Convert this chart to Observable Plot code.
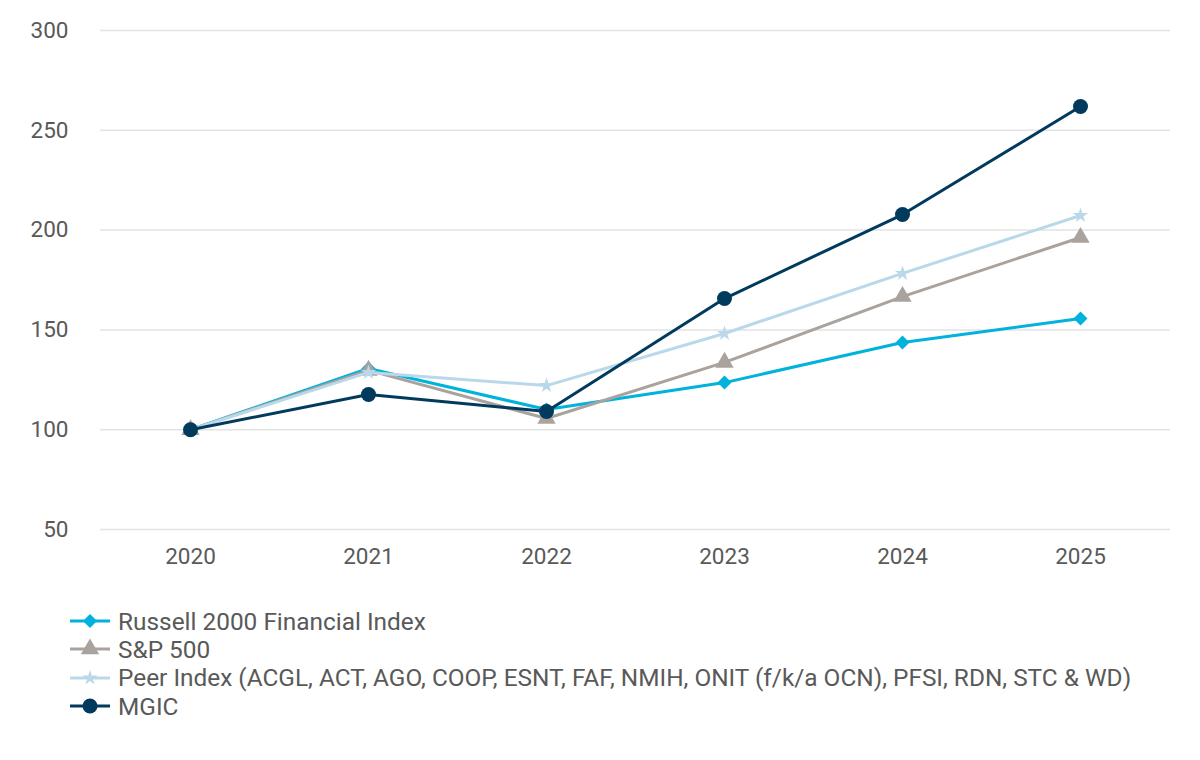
<!DOCTYPE html>
<html>
<head>
<meta charset="utf-8">
<script src="https://cdn.jsdelivr.net/npm/d3@7"></script>
<script src="https://cdn.jsdelivr.net/npm/@observablehq/plot@0.6"></script>
<style>
  body { margin: 0; background: #fff; font-family: Roboto, "Noto Sans", sans-serif; }
  #legend { margin-left: 70px; margin-top: 17px; color: #595959; font-size: 24.4px; }
  .row { display: flex; align-items: center; height: 28.3px; }
  .row svg { margin-right: 8px; flex: none; }
</style>
</head>
<body>
<div id="chart"></div>
<div id="legend"></div>
<script>
const years = ["2020", "2021", "2022", "2023", "2024", "2025"];
const seriesNames = [
  "Russell 2000 Financial Index",
  "S&P 500",
  "Peer Index (ACGL, ACT, AGO, COOP, ESNT, FAF, NMIH, ONIT (f/k/a OCN), PFSI, RDN, STC & WD)",
  "MGIC"
];
const russell = [100, 130.7, 110.1, 123.6, 143.7, 155.7];
const sp500   = [100, 129.7, 105.6, 133.7, 166.7, 196.3];
const peer    = [100, 128.7, 122.1, 148.2, 178.3, 207.3];
const mgic    = [100, 117.6, 109.1, 165.7, 207.8, 261.9];
const yTicks = [50, 100, 150, 200, 250, 300];

const colors = ["#00b2dc", "#aaa39d", "#b9d8ea", "#003a5d"];
const symbols = ["diamond2", "triangle", "star", "circle"];
const radii = [6.3, 6.8, 4.8, 7.5];
const values = [russell, sp500, peer, mgic];

const data = [];
seriesNames.forEach((s, i) => values[i].forEach((v, j) => data.push({series: s, year: years[j], value: v})));

const marks = [
  Plot.gridY(yTicks, {stroke: "#e3e3e3", strokeOpacity: 1, strokeWidth: 1.5}),
  Plot.axisY(yTicks, {tickSize: 0, tickPadding: 32, label: null, fontSize: 22.5, fill: "#595959"}),
  Plot.axisX({tickSize: 0, tickPadding: 19, label: null, fontSize: 22.5, fill: "#595959"})
];
seriesNames.forEach((s, i) => {
  const d = data.filter(e => e.series === s);
  marks.push(Plot.line(d, {x: "year", y: "value", stroke: colors[i], strokeWidth: 3}));
  marks.push(Plot.dot(d, {x: "year", y: "value", fill: colors[i], symbol: () => symbols[i], r: radii[i]}));
});

const chart = Plot.plot({
  width: 1200,
  height: 590,
  marginLeft: 100,
  marginRight: 30,
  marginTop: 30,
  marginBottom: 61,
  style: {fontFamily: "Roboto, sans-serif", fontSize: "22.5px", color: "#595959", background: "#fff"},
  x: {type: "point", domain: years, padding: 0.5},
  y: {domain: [50, 300]},
  symbol: {type: "identity"},
  marks
});
document.getElementById("chart").appendChild(chart);

const legend = document.getElementById("legend");
const symMap = {diamond2: d3.symbolDiamond2, triangle: d3.symbolTriangle, star: d3.symbolStar, circle: d3.symbolCircle};
seriesNames.forEach((s, i) => {
  const row = document.createElement("div");
  row.className = "row";
  const svg = d3.create("svg").attr("width", 40).attr("height", 24);
  svg.append("line").attr("x1", 0).attr("x2", 40).attr("y1", 12).attr("y2", 12)
    .attr("stroke", colors[i]).attr("stroke-width", 3);
  const rr = radii[i];
  svg.append("path").attr("transform", "translate(20,12)")
    .attr("d", d3.symbol(symMap[symbols[i]], Math.PI * rr * rr)())
    .attr("fill", colors[i]);
  row.appendChild(svg.node());
  const t = document.createElement("span");
  t.textContent = s;
  row.appendChild(t);
  legend.appendChild(row);
});
</script>
</body>
</html>
